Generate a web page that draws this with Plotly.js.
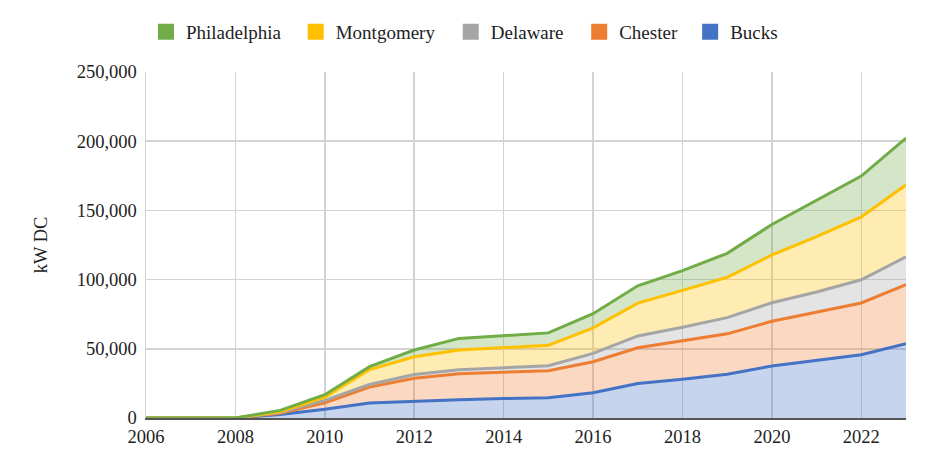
<!DOCTYPE html>
<html>
<head>
<meta charset="utf-8">
<script src="https://cdn.plot.ly/plotly-3.0.1.min.js"></script>
<style>html,body{margin:0;padding:0;background:#fff;}#chart{width:930px;height:450px;}</style>
</head>
<body>
<div id="chart"></div>
<script>
var years = [2006,2007,2008,2009,2010,2011,2012,2013,2014,2015,2016,2017,2018,2019,2020,2021,2022,2023];
var bucks = [0,0,0,2500,6250,10800,12200,13200,14100,14600,18200,24900,28000,31600,37600,41900,45700,53600];
var chester = [0,0,0,1000,4750,11500,16500,18700,18700,19600,22500,25800,27800,29200,32300,34500,37400,42700];
var delaware = [0,0,0,500,1700,1900,2700,2900,3500,3600,6000,8600,9800,11700,13400,14600,16800,20100];
var montgomery = [0,0,0,500,2400,10800,12900,14300,14700,14700,18400,23700,26600,29200,34500,40000,45400,52100];
var philadelphia = [0,0,0,1000,1700,2100,4800,8400,8500,9000,10300,12500,14300,17300,22000,26300,29500,33800];
var seriesNames = ['Bucks','Chester','Delaware','Montgomery','Philadelphia'];
var yTickVals = [0,50000,100000,150000,200000,250000];
var yTickText = ['0','50,000','100,000','150,000','200,000','250,000'];
var yAxisLabel = 'kW DC';

var seriesData = [bucks, chester, delaware, montgomery, philadelphia];
var lineColors = ['#4472C4','#ED7D31','#A5A5A5','#FFC000','#70AD47'];
var fillColors = ['rgba(68,114,196,0.3)','rgba(237,125,49,0.3)','rgba(165,165,165,0.3)','rgba(255,192,0,0.3)','rgba(112,173,71,0.3)'];
// legend box x positions (paper fraction), Bucks..Philadelphia
var legendX = [0.716, 0.570, 0.401, 0.197, 0.0];

var font = '"Liberation Serif", "Times New Roman", Times, serif';
var traces = [];
for (var i = 0; i < seriesData.length; i++) {
  traces.push({
    x: years, y: seriesData[i], name: seriesNames[i],
    type: 'scatter', mode: 'lines', stackgroup: 'one', fill: 'tonexty',
    line: {color: lineColors[i], width: 3}, fillcolor: fillColors[i],
    showlegend: false, hoverinfo: 'skip'
  });
}
var layout = {
  width: 930, height: 450,
  margin: {l: 146, r: 24, t: 72, b: 32},
  paper_bgcolor: '#fff', plot_bgcolor: '#fff',
  font: {family: font, size: 18, color: '#222'},
  showlegend: true,
  xaxis: {range: [2006, 2023], tick0: 2006, dtick: 2, showgrid: true, gridcolor: '#d3d3d3', gridwidth: 1.5,
          zeroline: false, showline: true, linecolor: '#555', linewidth: 2,
          ticks: '', ticklabelstandoff: 1,
          tickfont: {family: font, size: 18.5, color: '#222'}, fixedrange: true},
  yaxis: {range: [0, 250000], tickvals: yTickVals, ticktext: yTickText, showgrid: true, gridcolor: '#d3d3d3', gridwidth: 1.5,
          zeroline: false, showline: true, linecolor: '#d3d3d3', linewidth: 1.5,
          ticks: '', ticklabelstandoff: 4,
          tickfont: {family: font, size: 18.5, color: '#222'},
          title: {text: yAxisLabel, font: {family: font, size: 18.5, color: '#222'}, standoff: 24}, fixedrange: true}
};
// one legend per series so each swatch sits where the reference has it
for (var j = seriesData.length - 1; j >= 0; j--) {
  var key = (j === seriesData.length - 1) ? 'legend' : 'legend' + (seriesData.length - j);
  traces.push({
    x: [null], y: [null], name: seriesNames[j], type: 'scatter', mode: 'markers',
    marker: {symbol: 'square', size: 17, color: lineColors[j]},
    showlegend: true, hoverinfo: 'skip', legend: key
  });
  layout[key] = {orientation: 'h', x: legendX[j], xanchor: 'left', y: 1.116, yanchor: 'middle',
                 font: {family: font, size: 19, color: '#222'}, itemwidth: 30, bgcolor: 'rgba(0,0,0,0)'};
}
Plotly.newPlot('chart', traces, layout, {displayModeBar: false, staticPlot: true});
</script>
</body>
</html>
